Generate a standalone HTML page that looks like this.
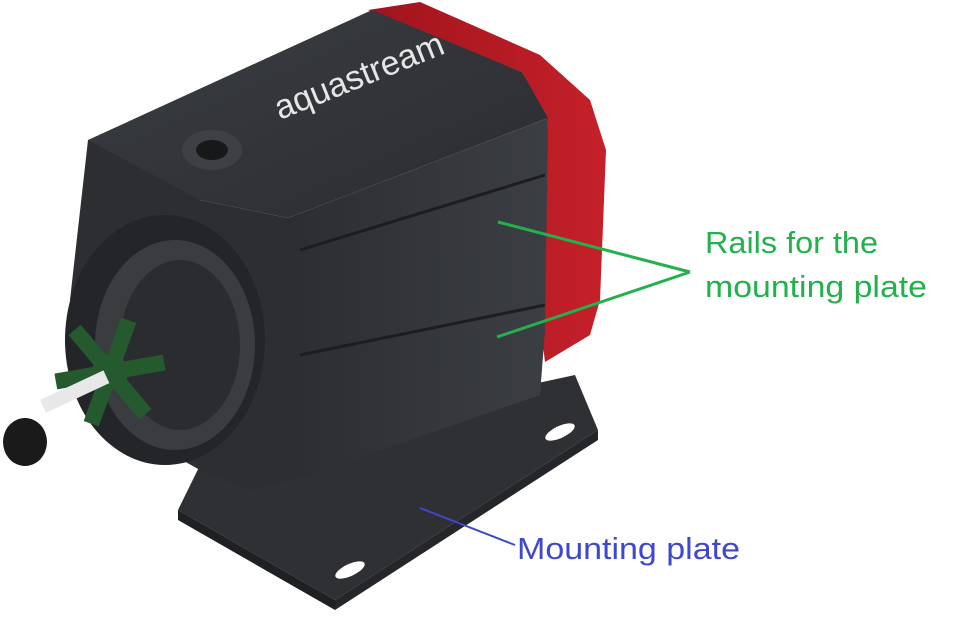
<!DOCTYPE html>
<html><head><meta charset="utf-8"><style>
html,body{margin:0;padding:0;background:#fff;}
svg{display:block}
text{font-family:"Liberation Sans",sans-serif;}
</style></head><body>
<svg width="965" height="617" viewBox="0 0 965 617" xmlns="http://www.w3.org/2000/svg">
<defs>
<linearGradient id="top" x1="0" y1="0" x2="1" y2="1"><stop offset="0" stop-color="#3a3d42"/><stop offset="1" stop-color="#2a2c30"/></linearGradient>
<linearGradient id="side" x1="0" y1="0" x2="1" y2="0"><stop offset="0" stop-color="#2b2d31"/><stop offset="1" stop-color="#3b3e43"/></linearGradient>
<linearGradient id="red" x1="0" y1="0" x2="1" y2="0"><stop offset="0" stop-color="#a0141c"/><stop offset="1" stop-color="#c5202a"/></linearGradient>
</defs>
<polygon points="205,455 575,375 598,430 335,600 178,510" fill="#2e3034"/>
<polygon points="178,510 335,600 335,610 178,520" fill="#1e2023"/>
<polygon points="335,600 598,430 598,440 335,610" fill="#24262a"/>
<ellipse cx="560" cy="432" rx="16" ry="6" fill="#fff" transform="rotate(-25 560 432)"/>
<ellipse cx="350" cy="570" rx="16" ry="6" fill="#fff" transform="rotate(-25 350 570)"/>
<polygon points="368,10 420,2 540,55 590,100 606,150 600,300 590,335 545,362 540,320 548,120 522,72" fill="url(#red)"/>
<polygon points="88,140 372,10 522,72 548,118 288,218 200,200 110,215" fill="url(#top)"/>
<polygon points="288,218 548,118 545,330 540,395 300,478 285,300" fill="url(#side)"/>
<line x1="300" y1="250" x2="545" y2="175" stroke="#1c1d20" stroke-width="3"/>
<line x1="300" y1="355" x2="545" y2="305" stroke="#1c1d20" stroke-width="3"/>
<polygon points="88,140 200,200 288,218 300,478 250,490 200,470 110,420 70,300" fill="#2c2e32"/>
<ellipse cx="165" cy="340" rx="100" ry="125" fill="#232528"/>
<ellipse cx="175" cy="345" rx="80" ry="105" fill="#3a3c40"/>
<ellipse cx="180" cy="345" rx="60" ry="85" fill="#2a2c30"/>
<ellipse cx="212" cy="150" rx="30" ry="20" fill="#3d4045"/>
<ellipse cx="212" cy="150" rx="16" ry="10" fill="#17181a"/>
<text x="280" y="120" fill="#e6e6e6" font-size="34" transform="rotate(-22 280 120)">aquastream</text>
<g transform="translate(110,372)" fill="#245a2e">
<rect x="-8" y="-55" width="16" height="110" transform="rotate(20)"/>
<rect x="-8" y="-55" width="16" height="110" transform="rotate(80)"/>
<rect x="-8" y="-55" width="16" height="110" transform="rotate(140)"/>
<circle r="18"/>
</g>
<rect x="40" y="400" width="70" height="14" fill="#e8e8e8" transform="rotate(-25 40 400)"/>
<ellipse cx="25" cy="442" rx="22" ry="24" fill="#1a1a1a"/>
<line x1="498" y1="222" x2="690" y2="272" stroke="#22b14c" stroke-width="3"/>
<line x1="497" y1="337" x2="690" y2="272" stroke="#22b14c" stroke-width="3"/>
<line x1="420" y1="508" x2="515" y2="545" stroke="#3f48cc" stroke-width="2"/>
<text x="705" y="253" fill="#22b14c" font-size="31" textLength="173" lengthAdjust="spacingAndGlyphs">Rails for the</text>
<text x="705" y="297" fill="#22b14c" font-size="31" textLength="222" lengthAdjust="spacingAndGlyphs">mounting plate</text>
<text x="517" y="559" fill="#3f48cc" font-size="31" textLength="223" lengthAdjust="spacingAndGlyphs">Mounting plate</text>
</svg>
</body></html>
